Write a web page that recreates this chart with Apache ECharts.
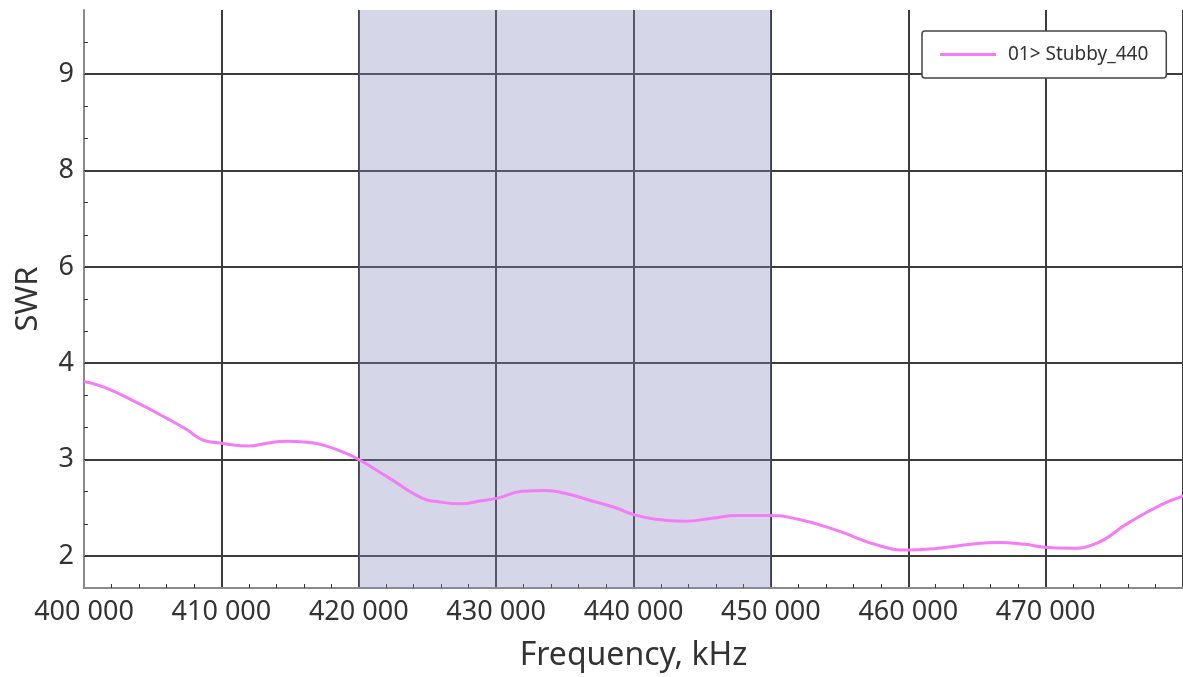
<!DOCTYPE html>
<html>
<head>
<meta charset="utf-8">
<script src="https://cdn.jsdelivr.net/npm/echarts@6/dist/echarts.min.js"></script>
<style>
html, body { margin: 0; padding: 0; background: #fff; }
#chart { width: 1183px; height: 677px; }
</style>
</head>
<body>
<div id="chart"></div>
<script>
// frequency (kHz) and SWR
const freqs = [400000, 401500, 404000, 406000, 407500, 408700, 410000, 412000, 413300, 414700,
  416200, 417400, 418800, 420000, 422200, 424600, 425900, 427500, 428800, 430100,
  431900, 433600, 435000, 437000, 438700, 440000, 441600, 443800, 445700, 447600,
  449800, 452000, 454900, 457800, 460000, 462200, 464600, 466500, 468500, 469900,
  471800, 473500, 476000, 478400, 480000];
const swr = [3.81, 3.75, 3.58, 3.43, 3.31, 3.20, 3.17, 3.14, 3.17, 3.19,
  3.18, 3.15, 3.08, 3.00, 2.81, 2.60, 2.56, 2.54, 2.57, 2.60,
  2.67, 2.68, 2.65, 2.57, 2.50, 2.43, 2.38, 2.36, 2.39, 2.42,
  2.42, 2.38, 2.26, 2.11, 2.06, 2.08, 2.12, 2.14, 2.12, 2.09,
  2.08, 2.12, 2.34, 2.53, 2.62];

// the SWR axis is evenly spaced per label; below 4 it is linear in SWR
const yTickValues = [2, 3, 4, 5, 6, 7];
const yTickLabels = ['2', '3', '4', '6', '8', '9'];
const band = [420000, 450000];
const seriesName = '01> Stubby_440';

const yMin = 5 / 3, yMax = 23 / 3;
let yMinor = [];
for (let k = 6; k <= 22; k++) yMinor.push(k / 3);

const font = 'Noto Sans';
let chart = echarts.init(document.getElementById('chart'));

chart.setOption({
  animation: false,
  backgroundColor: '#fff',
  grid: { left: 84, top: 10, width: 1101, height: 578 },
  legend: {
    left: 922, top: 31,
    padding: [14, 18, 14, 18],
    backgroundColor: '#fff',
    borderColor: '#444',
    borderWidth: 1.5,
    borderRadius: 3,
    icon: 'rect',
    itemWidth: 56,
    itemHeight: 3,
    textStyle: { fontFamily: font, fontSize: 19, color: '#333', padding: [0, 0, 0, 7] },
    data: [seriesName]
  },
  xAxis: {
    type: 'value',
    min: 400000, max: 480000, interval: 10000,
    name: 'Frequency, kHz',
    nameLocation: 'middle',
    nameGap: 52,
    nameTextStyle: { fontFamily: font, fontSize: 32, color: '#333' },
    axisLine: { show: true, lineStyle: { color: '#8a8a8a', width: 2 } },
    axisTick: { show: false, inside: true },
    minorTick: { show: true, splitNumber: 5, length: 4, lineStyle: { color: '#333', width: 1 } },
    axisLabel: {
      fontFamily: font, fontSize: 27, color: '#333', margin: 11,
      showMaxLabel: false,
      formatter: v => String(v).replace(/\B(?=(\d{3})+(?!\d))/g, ' ')
    },
    splitLine: { show: true, lineStyle: { color: '#3c3c3c', width: 2 } }
  },
  yAxis: [
    {
      type: 'value',
      min: yMin, max: yMax,
      name: 'SWR',
      nameLocation: 'middle',
      nameGap: 40,
      nameTextStyle: { fontFamily: font, fontSize: 31, color: '#333' },
      axisLine: { show: true, lineStyle: { color: '#8a8a8a', width: 2 } },
      axisTick: { show: false, customValues: yTickValues },
      axisLabel: {
        fontFamily: font, fontSize: 27, color: '#333', margin: 10,
        customValues: yTickValues,
        formatter: v => yTickLabels[yTickValues.indexOf(Math.round(v))]
      },
      splitLine: { show: true, lineStyle: { color: '#3c3c3c', width: 2 } }
    },
    {
      type: 'value',
      min: yMin, max: yMax,
      position: 'left',
      axisLine: { show: false },
      axisTick: { show: true, inside: true, length: 4, customValues: yMinor, lineStyle: { color: '#333', width: 1 } },
      axisLabel: { show: false },
      splitLine: { show: false }
    }
  ],
  series: [
    {
      name: seriesName,
      type: 'line',
      smooth: 0.5,
      symbol: 'none',
      data: freqs.map((f, i) => [f, swr[i]]),
      color: '#f47cf4',
      lineStyle: { width: 3, color: '#f47cf4' },
      markArea: {
        silent: true,
        itemStyle: { color: 'rgba(135,141,192,0.35)' },
        data: [[{ xAxis: band[0] }, { xAxis: band[1] }]]
      }
    }
  ]
});
</script>
</body>
</html>
